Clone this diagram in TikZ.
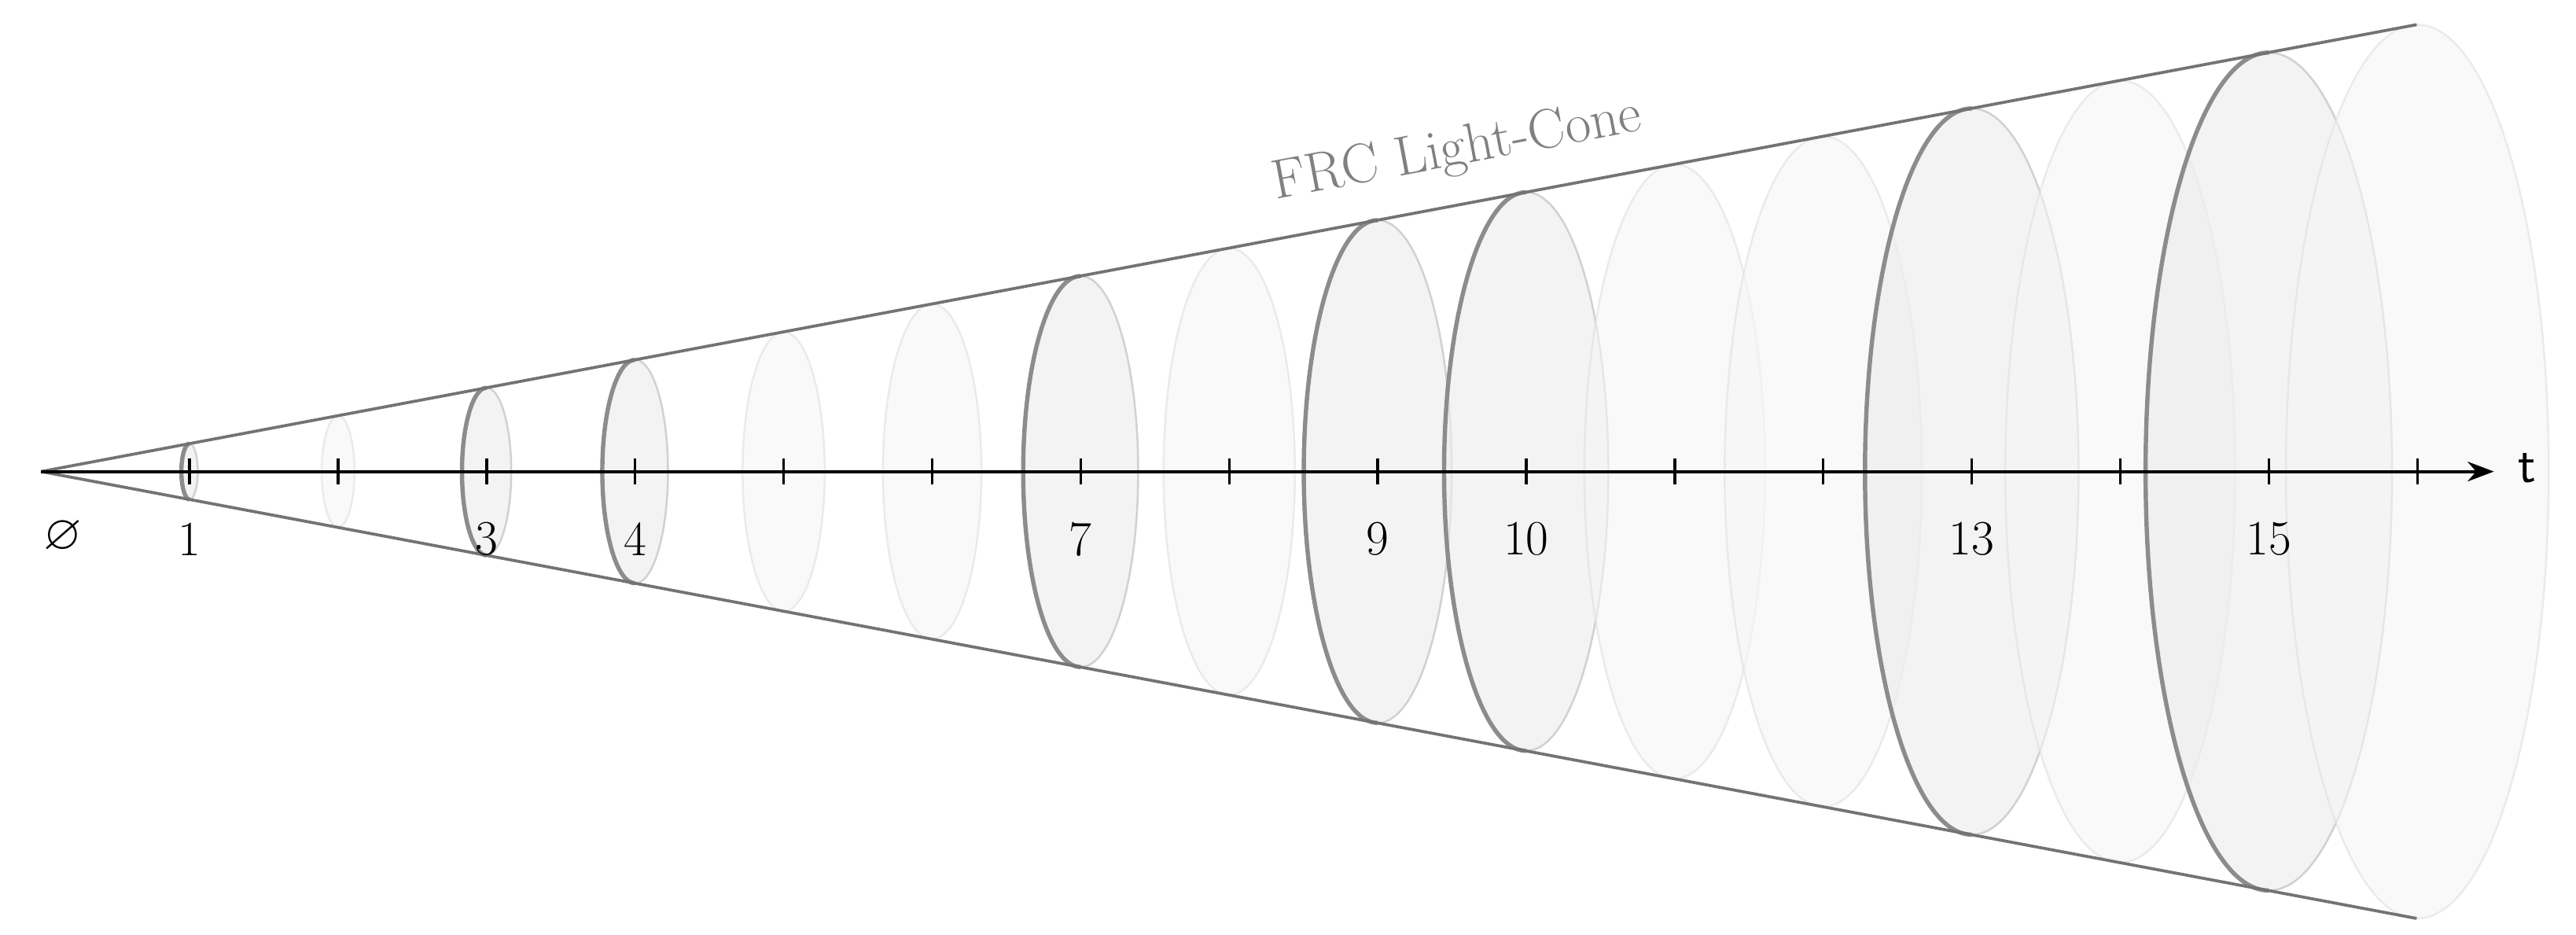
\documentclass[tikz,border=0pt]{standalone}
\usepackage{amssymb}
\usetikzlibrary{arrows.meta}
\begin{document}
\begin{tikzpicture}[x=0.5pt,y=-0.5pt,
  faint/.style={fill=black!4,fill opacity=0.6,draw=black!12,draw opacity=0.6,line width=0.6pt},
  hi/.style={fill=black!7,fill opacity=0.65,draw=black!18,line width=0.6pt},
  hiedge/.style={draw=black!45,line width=1.3pt},
  lbl/.style={font=\fontsize{15}{18}\selectfont}]
\useasboundingbox (0,0) rectangle (1568,569);
\def\hiname{hi}
\foreach \k in {1,...,16}{
  \pgfmathsetmacro\cx{25+90.4*\k}
  \pgfmathsetmacro\rx{5*\k}
  \pgfmathsetmacro\ry{17*\k}
  \ifnum\k=1 \def\s{hi}\else\ifnum\k=3 \def\s{hi}\else\ifnum\k=4 \def\s{hi}\else\ifnum\k=7 \def\s{hi}\else\ifnum\k=9 \def\s{hi}\else\ifnum\k=10 \def\s{hi}\else\ifnum\k=13 \def\s{hi}\else\ifnum\k=15 \def\s{hi}\else\def\s{faint}\fi\fi\fi\fi\fi\fi\fi\fi
  \path[\s] (\cx,287) ellipse [x radius=\rx, y radius=\ry];
  \ifx\s\hiname \draw[hiedge] (\cx,287+\ry) arc[start angle=90,end angle=270,x radius=\rx,y radius=\ry];\fi
}
\coordinate (O) at (25,287);
\coordinate (T) at (1471,15);
\coordinate (B) at (1471,559);
\coordinate (E) at (1518,287);
\draw[black!55,line width=0.9pt] (O) -- (T) (O) -- (B);
\draw[line width=0.9pt,-{Stealth[length=8pt,width=6pt]}] (O) -- (E);
\foreach \k in {1,...,16}{
  \pgfmathsetmacro\cx{25+90.4*\k}
  \draw[line width=0.8pt] (\cx,279) -- (\cx,295);
}
\foreach \k in {1,3,4,7,9,10,13,15}{
  \pgfmathsetmacro\cx{25+90.4*\k}
  \node[lbl] (n\k) at (\cx,328) {\k};
}
\node[lbl] (empty) at (38,327) {$\varnothing$};
\node[font=\fontsize{16}{19}\selectfont\sffamily] (t) at (1538,285) {t};
\node[font=\fontsize{17}{20}\selectfont,text=black!50,rotate=10.65,inner sep=0pt] (frc) at (887,92) {FRC Light-Cone};
\end{tikzpicture}
\end{document}
